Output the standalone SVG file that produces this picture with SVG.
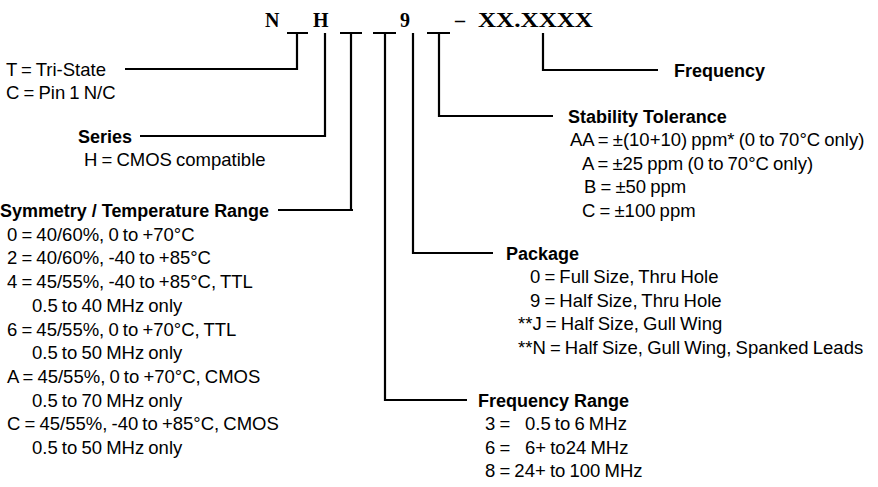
<svg xmlns="http://www.w3.org/2000/svg" width="878" height="487" viewBox="0 0 878 487">
<style>
.t{font-family:"Liberation Sans",Arial,sans-serif;font-size:18.5px;word-spacing:-1px;fill:#000}
.h{font-family:"Liberation Sans",Arial,sans-serif;font-size:18px;font-weight:bold;fill:#000}
.c{font-family:"Liberation Serif","Times New Roman",serif;font-size:20px;font-weight:bold;fill:#000}
.ln{fill:none;stroke:#000;stroke-width:2.2}
</style>
<rect width="878" height="487" fill="#fff"/>
<g id="code">
<text class="c" x="265" y="27">N</text>
<text class="c" x="313" y="27">H</text>
<text class="c" x="400" y="27">9</text>
<text class="c" x="455" y="27">–</text>
<text class="c" x="478" y="27" textLength="115" lengthAdjust="spacingAndGlyphs">XX.XXXX</text>
</g>
<g id="connectors">
<path class="ln" d="M287 33H308M297 33V69H125"/>
<path class="ln" d="M325 33V136H140"/>
<path class="ln" d="M340 33H362M351 33V211M278 210H353"/>
<path class="ln" d="M373 33H396M385 33V400H467"/>
<path class="ln" d="M413 33V253H493"/>
<path class="ln" d="M427 33H450M439 33V116H553"/>
<path class="ln" d="M543 33V70H658"/>
</g>
<g id="output">
<text class="t" x="6" y="75.5">T = Tri-State</text>
<text class="t" x="6" y="99">C = Pin 1 N/C</text>
</g>
<g id="series">
<text class="h" x="78" y="142.5">Series</text>
<text class="t" x="84" y="166">H = CMOS compatible</text>
</g>
<g id="symmetry">
<text class="h" x="0" y="217" textLength="269" lengthAdjust="spacingAndGlyphs">Symmetry / Temperature Range</text>
<text class="t" x="7" y="240.7">0 = 40/60%, 0 to +70°C</text>
<text class="t" x="7" y="264.4">2 = 40/60%, -40 to +85°C</text>
<text class="t" x="7" y="288.1">4 = 45/55%, -40 to +85°C, TTL</text>
<text class="t" x="32" y="311.8">0.5 to 40 MHz only</text>
<text class="t" x="7" y="335.5">6 = 45/55%, 0 to +70°C, TTL</text>
<text class="t" x="32" y="359.2">0.5 to 50 MHz only</text>
<text class="t" x="7" y="382.9">A = 45/55%, 0 to +70°C, CMOS</text>
<text class="t" x="32" y="406.6">0.5 to 70 MHz only</text>
<text class="t" x="7" y="430.3">C = 45/55%, -40 to +85°C, CMOS</text>
<text class="t" x="32" y="454">0.5 to 50 MHz only</text>
</g>
<g id="frequency">
<text class="h" x="674" y="77">Frequency</text>
</g>
<g id="stability">
<text class="h" x="568" y="122.5">Stability Tolerance</text>
<text class="t" x="570" y="146">AA = ±(10+10) ppm* (0 to 70°C only)</text>
<text class="t" x="582" y="169.5">A = ±25 ppm (0 to 70°C only)</text>
<text class="t" x="584" y="193">B = ±50 ppm</text>
<text class="t" x="582" y="216.5">C = ±100 ppm</text>
</g>
<g id="package">
<text class="h" x="506" y="259.5">Package</text>
<text class="t" x="530" y="283">0 = Full Size, Thru Hole</text>
<text class="t" x="530" y="306.5">9 = Half Size, Thru Hole</text>
<text class="t" x="518" y="330">**J = Half Size, Gull Wing</text>
<text class="t" x="518" y="353.5">**N = Half Size, Gull Wing, Spanked Leads</text>
</g>
<g id="range">
<text class="h" x="478" y="406.5">Frequency Range</text>
<text class="t" x="485" y="430">3 =<tspan x="525">0.5 to 6 MHz</tspan></text>
<text class="t" x="485" y="453.5">6 =<tspan x="525">6+ to24 MHz</tspan></text>
<text class="t" x="485" y="477">8 = 24+ to 100 MHz</text>
</g>
</svg>
